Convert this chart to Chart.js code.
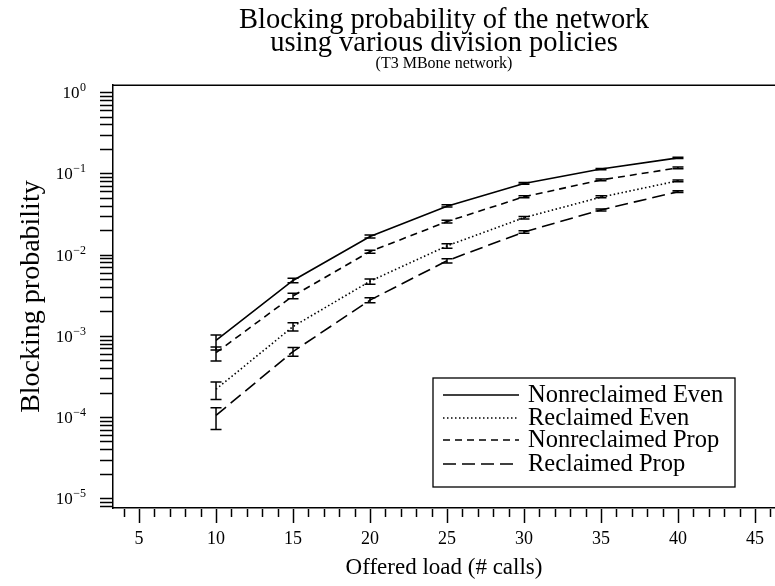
<!DOCTYPE html>
<html><head><meta charset="utf-8">
<script src="https://cdn.jsdelivr.net/npm/chart.js@4"></script>
<style>html,body{margin:0;padding:0;background:#fff}#wrap{width:775px;height:586px;position:relative}</style>
</head><body><div id="wrap"><canvas id="c" width="775" height="586"></canvas></div>
<script>
// ---- data ----
const loads = [10, 15, 20, 25, 30, 35, 40];
const seriesNames = ['Nonreclaimed Even', 'Reclaimed Even', 'Nonreclaimed Prop', 'Reclaimed Prop'];

const nonreclaimedEven     = [8.8e-4, 4.8e-3, 1.67e-2, 3.95e-2, 7.5e-2, 1.13e-1, 1.55e-1];
const nonreclaimedEvenLow  = [6.7e-4, 4.5e-3, 1.60e-2, 3.85e-2, 7.35e-2, 1.11e-1, 1.52e-1];
const nonreclaimedEvenHigh = [1.02e-3, 5.1e-3, 1.74e-2, 4.10e-2, 7.7e-2, 1.15e-1, 1.58e-1];

const reclaimedEven     = [2.2e-4, 1.3e-3, 4.7e-3, 1.28e-2, 2.85e-2, 5.1e-2, 8.1e-2];
const reclaimedEvenLow  = [1.64e-4, 1.15e-3, 4.3e-3, 1.20e-2, 2.75e-2, 5.0e-2, 7.9e-2];
const reclaimedEvenHigh = [2.7e-4, 1.45e-3, 5.0e-3, 1.36e-2, 2.95e-2, 5.3e-2, 8.3e-2];

const nonreclaimedProp     = [6.2e-4, 3.1e-3, 1.09e-2, 2.55e-2, 5.15e-2, 8.3e-2, 1.17e-1];
const nonreclaimedPropLow  = [4.9e-4, 2.85e-3, 1.04e-2, 2.45e-2, 5.0e-2, 8.1e-2, 1.14e-1];
const nonreclaimedPropHigh = [7.3e-4, 3.35e-3, 1.13e-2, 2.65e-2, 5.3e-2, 8.5e-2, 1.20e-1];

const reclaimedProp     = [1.05e-4, 6.4e-4, 2.75e-3, 8.4e-3, 1.9e-2, 3.55e-2, 5.95e-2];
const reclaimedPropLow  = [7.0e-5, 5.6e-4, 2.55e-3, 7.9e-3, 1.83e-2, 3.45e-2, 5.8e-2];
const reclaimedPropHigh = [1.3e-4, 7.2e-4, 2.95e-3, 8.9e-3, 1.97e-2, 3.65e-2, 6.1e-2];

const xTickLabels = [5, 10, 15, 20, 25, 30, 35, 40, 45];
const yTickExponents = [0, -1, -2, -3, -4, -5];

// ---- styling ----
const SERIF = '"Liberation Serif", "Times New Roman", serif';
const dashes = [[], [1.5, 2.5], [7, 5], [13, 6]];
const values = [nonreclaimedEven, reclaimedEven, nonreclaimedProp, reclaimedProp];
const lows = [nonreclaimedEvenLow, reclaimedEvenLow, nonreclaimedPropLow, reclaimedPropLow];
const highs = [nonreclaimedEvenHigh, reclaimedEvenHigh, nonreclaimedPropHigh, reclaimedPropHigh];

const datasets = seriesNames.map((name, i) => ({
  label: name,
  data: loads.map((x, j) => ({x: x, y: values[i][j]})),
  borderColor: '#000',
  backgroundColor: '#000',
  borderWidth: 1.6,
  borderDash: dashes[i],
  pointRadius: 0,
  tension: 0,
  fill: false,
  errLow: lows[i],
  errHigh: highs[i]
}));

const decoPlugin = {
  id: 'deco',
  afterDatasetsDraw(chart) {
    const ctx = chart.ctx, xs = chart.scales.x, ys = chart.scales.y;
    ctx.save();
    ctx.strokeStyle = '#000';
    ctx.lineWidth = 1.5;
    ctx.setLineDash([]);
    chart.data.datasets.forEach(ds => {
      loads.forEach((x, j) => {
        const px = xs.getPixelForValue(x);
        const yl = ys.getPixelForValue(ds.errLow[j]);
        const yh = ys.getPixelForValue(ds.errHigh[j]);
        ctx.beginPath();
        ctx.moveTo(px, yl); ctx.lineTo(px, yh);
        ctx.moveTo(px - 5.5, yl); ctx.lineTo(px + 5.5, yl);
        ctx.moveTo(px - 5.5, yh); ctx.lineTo(px + 5.5, yh);
        ctx.stroke();
      });
    });
    ctx.restore();
  },
  afterDraw(chart) {
    const ctx = chart.ctx, xs = chart.scales.x, ys = chart.scales.y, a = chart.chartArea;
    ctx.save();
    ctx.strokeStyle = '#000';
    ctx.fillStyle = '#000';
    ctx.lineWidth = 1.5;
    ctx.setLineDash([]);
    // top frame line
    ctx.beginPath();
    ctx.moveTo(a.left - 0.75, a.top); ctx.lineTo(a.right, a.top);
    ctx.stroke();
    // x tick marks (minor every 1, major every 5)
    for (let v = Math.ceil(xs.min); v <= xs.max; v++) {
      const px = Math.round(xs.getPixelForValue(v)) + 0.5;
      const len = (v % 5 === 0) ? 15 : 9;
      ctx.beginPath();
      ctx.moveTo(px, a.bottom + 1); ctx.lineTo(px, a.bottom + len);
      ctx.stroke();
    }
    // y tick marks (every mantissa of each decade)
    for (let e = -6; e <= 0; e++) {
      for (let m = 1; m <= 9; m++) {
        const v = m * Math.pow(10, e);
        if (v < ys.min || v > ys.max) continue;
        const py = Math.round(ys.getPixelForValue(v)) + 0.5;
        ctx.beginPath();
        ctx.moveTo(a.left - 13, py); ctx.lineTo(a.left, py);
        ctx.stroke();
      }
    }
    // y tick labels 10^e
    const rightEdge = a.left - 27;
    yTickExponents.forEach(e => {
      const py = ys.getPixelForValue(Math.pow(10, e));
      const expTxt = e < 0 ? '\u2212' + Math.abs(e) : String(e);
      ctx.font = '12px ' + SERIF;
      const ew = ctx.measureText(expTxt).width;
      ctx.textBaseline = 'alphabetic';
      ctx.textAlign = 'left';
      ctx.fillText(expTxt, rightEdge - ew, py - 1);
      ctx.font = '17px ' + SERIF;
      ctx.textAlign = 'right';
      ctx.fillText('10', rightEdge - ew - 0.5, py + 6);
    });
    // legend box
    const bx0 = a.right - 342, bx1 = a.right - 40, by0 = a.bottom - 130, by1 = a.bottom - 21;
    ctx.lineWidth = 1.3;
    ctx.strokeRect(bx0, by0, bx1 - bx0, by1 - by0);
    const rows = [by0 + 17, by0 + 40, by0 + 62, by0 + 86];
    chart.data.datasets.forEach((ds, i) => {
      ctx.save();
      ctx.lineWidth = 1.6;
      ctx.setLineDash(ds.borderDash);
      ctx.beginPath();
      ctx.moveTo(bx0 + 10, rows[i]); ctx.lineTo(bx0 + 86, rows[i]);
      ctx.stroke();
      ctx.restore();
      ctx.font = '24.5px ' + SERIF;
      ctx.textAlign = 'left';
      ctx.textBaseline = 'middle';
      ctx.fillText(ds.label, bx0 + 95, rows[i] + 1);
    });
    ctx.restore();
  }
};

new Chart(document.getElementById('c'), {
  type: 'line',
  data: {datasets: datasets},
  options: {
    responsive: false,
    animation: false,
    devicePixelRatio: 1,
    layout: {padding: {left: 0, right: 0, top: 0, bottom: 0}},
    scales: {
      x: {
        type: 'linear',
        min: 3.31,
        max: 46.3,
        afterBuildTicks: s => { s.ticks = xTickLabels.map(v => ({value: v})); },
        afterFit: s => { s.height = 78; s.paddingLeft = 0; s.paddingRight = 0; },
        ticks: {
          autoSkip: false, maxRotation: 0, color: '#000', padding: 2,
          font: {family: SERIF, size: 18},
          callback: v => String(v)
        },
        grid: {display: false, drawTicks: true, tickLength: 18},
        border: {display: true, color: '#000', width: 1.5},
        title: {display: true, text: 'Offered load (# calls)', color: '#000',
                font: {family: SERIF, size: 23}, padding: {top: 0, bottom: 4}}
      },
      y: {
        type: 'logarithmic',
        min: Math.pow(10, -5.12),
        max: Math.pow(10, 0.086),
        afterFit: s => { s.width = 113; s.paddingTop = 0; s.paddingBottom = 0; },
        ticks: {display: false},
        grid: {display: false, drawTicks: false},
        border: {display: true, color: '#000', width: 1.5},
        title: {display: true, text: 'Blocking probability', color: '#000',
                font: {family: SERIF, size: 28}, padding: {top: 15, bottom: 0}}
      }
    },
    plugins: {
      legend: {display: false},
      tooltip: {enabled: false},
      title: {
        display: true, fullSize: false, color: '#000',
        text: ['Blocking probability of the network', 'using various division policies'],
        font: {family: SERIF, size: 28.5, lineHeight: 0.81, weight: 'normal'},
        padding: {top: 9, bottom: 0}
      },
      subtitle: {
        display: true, fullSize: false, color: '#000',
        text: '(T3 MBone network)',
        font: {family: SERIF, size: 16, lineHeight: 1},
        padding: {top: 1, bottom: 13}
      }
    }
  },
  plugins: [decoPlugin]
});
</script>
</body></html>
